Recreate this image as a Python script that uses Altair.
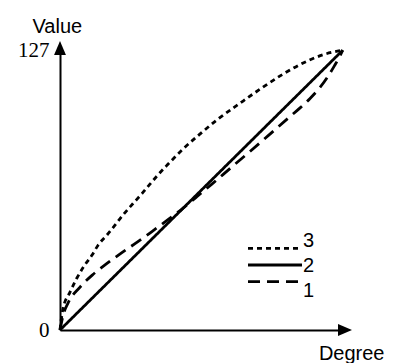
import altair as alt
import pandas as pd

# ---- data ----
series_names = ["1", "2", "3"]
legend_order = ["3", "2", "1"]

curve1_x = [0, 1.3, 3.6, 9.0, 14.8, 21.1, 27.8, 35.0, 41.3, 48.5, 54.8, 61.0,
            68.2, 77.6, 85.3, 94.3, 103.2, 107.7, 112.2, 116.7, 120.3, 123.4, 125.7, 127]
curve1_y = [0, 6.3, 12.2, 19.5, 25.2, 30.2, 35.1, 40.1, 44.7, 50.1, 54.9, 60.1,
            66.2, 74.4, 81.0, 88.9, 96.8, 100.7, 105.0, 110.0, 115.0, 120.2, 124.3, 127]

curve2_x = [0, 127]
curve2_y = [0, 127]

curve3_x = [0, 1.3, 4.5, 7.6, 10.8, 14.4, 17.1, 21.1, 24.7, 28.3, 32.8, 36.8,
            40.4, 43.9, 47.9, 55.2, 62.8, 70.9, 80.8, 89.8, 100.1, 110.9, 119.0, 127]
curve3_y = [0, 9.5, 17.2, 23.6, 29.0, 34.0, 38.5, 43.1, 47.6, 52.2, 57.4, 61.9,
            66.2, 70.3, 74.6, 82.1, 88.9, 95.7, 102.9, 109.3, 116.1, 122.0, 125.2, 127]

y_tick_values = [0, 127]
axis_max = 128

# ---- tables ----
rows = []
for name, xs, ys in [("1", curve1_x, curve1_y), ("2", curve2_x, curve2_y), ("3", curve3_x, curve3_y)]:
    for i, (a, b) in enumerate(zip(xs, ys)):
        rows.append({"series": name, "degree": a, "value": b, "order": i})
df = pd.DataFrame(rows)
legend_df = pd.DataFrame({"series": legend_order})
x_arrow_df = pd.DataFrame({"degree": [axis_max], "value": [0]})
y_arrow_df = pd.DataFrame({"degree": [0], "value": [axis_max]})

dash_scale = alt.Scale(domain=series_names, range=[[12, 7], [1, 0], [5, 4]])
x_scale = alt.Scale(domain=[0, axis_max], nice=False, zero=False)
y_scale = alt.Scale(domain=[0, axis_max], nice=False, zero=False)

SANS = "Liberation Sans"
SERIF = "Liberation Serif"

lines = alt.Chart(df).mark_line(color="black", strokeWidth=2.8, interpolate="monotone").encode(
    x=alt.X("degree:Q", scale=x_scale,
            axis=alt.Axis(values=[0], labels=False, ticks=False, grid=False,
                          domainColor="black", domainWidth=2,
                          title="Degree", titleFont=SANS, titleFontSize=20,
                          titleFontWeight="normal", titleColor="black",
                          titleAlign="right", titleBaseline="alphabetic",
                          titleX=324, titleY=29)),
    y=alt.Y("value:Q", scale=y_scale,
            axis=alt.Axis(values=y_tick_values, ticks=False, tickSize=0, grid=False,
                          domainColor="black", domainWidth=2,
                          labelFont=SERIF, labelFontSize=21, labelColor="black",
                          labelPadding=11,
                          title="Value", titleFont=SANS, titleFontSize=20,
                          titleFontWeight="normal", titleColor="black",
                          titleAngle=0, titleAlign="left", titleBaseline="alphabetic",
                          titleX=-28, titleY=-16)),
    strokeDash=alt.StrokeDash("series:N", scale=dash_scale, legend=None),
    detail="series:N",
    order="order:Q",
)

x_arrow = alt.Chart(x_arrow_df).mark_point(
    shape="M1,0L-1,-0.85L-1,0.85Z", filled=True, color="black", opacity=1, size=196
).encode(
    x=alt.X("degree:Q", scale=x_scale),
    y=alt.Y("value:Q", scale=y_scale, axis=None),
)

y_arrow = alt.Chart(y_arrow_df).mark_point(
    shape="M0,-1L-0.85,1L0.85,1Z", filled=True, color="black", opacity=1, size=196
).encode(
    x=alt.X("degree:Q", scale=x_scale),
    y=alt.Y("value:Q", scale=y_scale, axis=None),
)

legend_y = alt.Y("series:N", scale=alt.Scale(domain=legend_order, range=[192, 242], padding=0), axis=None)

legend_rules = alt.Chart(legend_df).mark_rule(color="black", strokeWidth=2.8).encode(
    x=alt.value(188), x2=alt.value(242),
    y=legend_y,
    strokeDash=alt.StrokeDash("series:N", scale=dash_scale, legend=None),
)

legend_text = alt.Chart(legend_df).mark_text(
    align="left", baseline="middle", font=SANS, fontSize=20, color="black", dy=1
).encode(
    x=alt.value(243),
    y=legend_y,
    text="series:N",
)

chart = alt.layer(lines, x_arrow, y_arrow, legend_rules, legend_text).resolve_scale(
    y="independent"
).properties(
    width=285, height=282,
    padding={"left": 52, "top": 40, "right": 40, "bottom": 40},
    autosize="none",
).configure_view(stroke=None)

chart.save("out.html", embed_options={"renderer": "svg", "actions": False})
